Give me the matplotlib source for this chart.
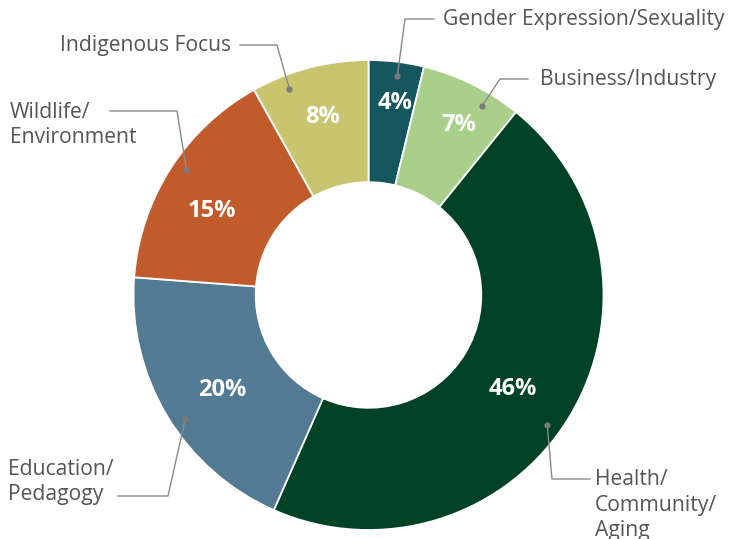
import numpy as np
import matplotlib.pyplot as plt

plt.rcParams['font.family'] = ['Open Sans', 'DejaVu Sans']

# data (clockwise from 12 o'clock)
categories = ["Gender Expression/Sexuality", "Business/Industry",
              "Health/\nCommunity/\nAging", "Education/\nPedagogy",
              "Wildlife/\nEnvironment", "Indigenous Focus"]
shares = [3.8, 7.0, 45.8, 19.6, 15.7, 8.1]
pct_labels = ["4%", "7%", "46%", "20%", "15%", "8%"]
colors = ["#15575f", "#a9cf8b", "#004225", "#527a93", "#c25b2c", "#c9c46e"]

# layout (pixel coordinates, y down)
cx, cy, R = 368.5, 295, 235
pct_r = [0.825, 0.82, 0.734, 0.743, 0.757, 0.783]
pct_ang = [8, 28, 123, 237, 298, 345.4]          # degrees clockwise from top
dot_ang = [7.5, 31, 126, 236, 304.5, 339]
elbows = [(405, 19), (500, 79), (552, 479), (168, 496), (177, 111), (277, 45)]
line_ends = [(434, 19), (528, 79), (590, 479), (118, 496), (110, 111), (240, 45)]
text_pos = [(443, 20, 'left'), (540, 79, 'left'), (595, 505, 'left'),
            (8, 482, 'left'), (10, 125, 'left'), (231, 45, 'right')]

fig = plt.figure(figsize=(7.29, 5.39), dpi=100)
ax = fig.add_axes([0, 0, 1, 1])

wedges, _ = ax.pie(shares, colors=colors, center=(cx, cy), radius=R,
                   startangle=-90, counterclock=True,
                   wedgeprops=dict(width=R * 0.52, edgecolor='white', linewidth=1.3))

ax.set_xlim(0, 729)
ax.set_ylim(539, 0)
ax.set_aspect('equal')
ax.axis('off')

for i, lab in enumerate(pct_labels):
    a = np.deg2rad(pct_ang[i])
    r = pct_r[i] * R
    ax.text(cx + r * np.sin(a), cy - r * np.cos(a), lab, color='white',
            fontsize=17, fontweight='bold', ha='center', va='center')

for i, name in enumerate(categories):
    a = np.deg2rad(dot_ang[i])
    dx, dy = cx + 0.94 * R * np.sin(a), cy - 0.94 * R * np.cos(a)
    ex, ey = elbows[i]
    lx, ly = line_ends[i]
    ax.plot([dx, ex, lx], [dy, ey, ly], color='#8a8a8a', lw=1)
    ax.plot(dx, dy, 'o', color='#7a7a7a', ms=3.5)
    tx, ty, ha = text_pos[i]
    ax.text(tx, ty, name, color='#555555', fontsize=15.2, ha=ha, va='center',
            multialignment='left', linespacing=1.3)

plt.savefig("out.png", dpi=100)
